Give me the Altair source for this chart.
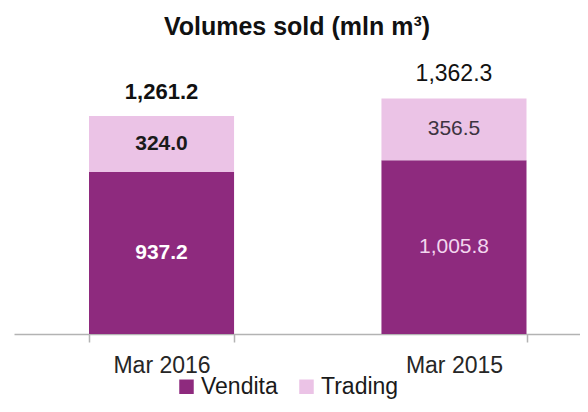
import altair as alt
import pandas as pd

categories = ["Mar 2016", "Mar 2015"]
series = ["Vendita", "Trading"]
vendita = [937.2, 1005.8]
trading = [324.0, 356.5]
totals = [1261.2, 1362.3]

# label styling per category / series
seg_colors = {
    ("Mar 2016", "Vendita"): "#ffffff",
    ("Mar 2016", "Trading"): "#1a1a1a",
    ("Mar 2015", "Vendita"): "#f3d6ef",
    ("Mar 2015", "Trading"): "#3d3340",
}
bold_cat = "Mar 2016"

rows = []
for i, c in enumerate(categories):
    v, t = vendita[i], trading[i]
    rows.append({"cat": c, "series": "Vendita", "value": v, "y0": 0.0, "y1": v,
                 "mid": v / 2, "lc": seg_colors[(c, "Vendita")]})
    rows.append({"cat": c, "series": "Trading", "value": t, "y0": v, "y1": v + t,
                 "mid": v + t / 2, "lc": seg_colors[(c, "Trading")]})
seg = pd.DataFrame(rows)
tot = pd.DataFrame({"cat": categories, "total": totals})

FONT = "Liberation Sans"
DARK = "#8e2a7e"
LIGHT = "#ebc3e6"

xenc = alt.X(
    "cat:N",
    sort=categories,
    scale=alt.Scale(paddingInner=0.504, paddingOuter=0.2197, align=0.5837),
    axis=alt.Axis(
        title=None,
        labelAngle=0,
        labelFont=FONT,
        labelFontSize=23,
        labelColor="#262626",
        labelPadding=12,
        domainColor="#b3b3b3",
        domainWidth=1.5,
        tickColor="#b3b3b3",
        tickWidth=1.5,
        tickSize=8,
        tickBand="extent",
        grid=False,
    ),
)
yscale = alt.Scale(domain=[0, 1585], nice=False, zero=True)

bars = alt.Chart(seg).mark_bar().encode(
    x=xenc,
    y=alt.Y("y0:Q", scale=yscale, axis=None),
    y2="y1:Q",
    color=alt.Color(
        "series:N",
        scale=alt.Scale(domain=series, range=[DARK, LIGHT]),
        legend=alt.Legend(
            title=None,
            orient="none",
            direction="horizontal",
            legendX=161,
            legendY=315,
            symbolType="square",
            symbolSize=210,
            symbolStrokeWidth=0,
            labelFont=FONT,
            labelFontSize=23,
            labelColor="#1a1a1a",
            labelOffset=3,
            columnPadding=17,
        ),
    ),
)

def seg_text(bold):
    flt = alt.datum.cat == bold_cat if bold else alt.datum.cat != bold_cat
    return alt.Chart(seg).transform_filter(flt).mark_text(
        font=FONT, fontSize=21, fontWeight="bold" if bold else "normal",
        baseline="middle", align="center",
    ).encode(
        x=alt.X("cat:N", sort=categories),
        y=alt.Y("mid:Q", scale=yscale),
        text=alt.Text("value:Q", format=",.1f"),
        color=alt.Color("lc:N", scale=None),
    )

def tot_text(bold):
    flt = alt.datum.cat == bold_cat if bold else alt.datum.cat != bold_cat
    return alt.Chart(tot).transform_filter(flt).mark_text(
        font=FONT, fontSize=22 if bold else 23, fontWeight="bold" if bold else "normal",
        baseline="middle", align="center", dy=-24, color="#111111",
    ).encode(
        x=alt.X("cat:N", sort=categories),
        y=alt.Y("total:Q", scale=yscale),
        text=alt.Text("total:Q", format=",.1f"),
    )

chart = alt.layer(
    bars, seg_text(True), seg_text(False), tot_text(True), tot_text(False)
).properties(
    width=566,
    height=274,
    title=alt.Title(
        "Volumes sold (mln m³)",
        font=FONT,
        fontSize=25,
        fontWeight="bold",
        color="#111111",
        anchor="middle",
        offset=20,
    ),
    autosize=alt.AutoSizeParams(type="none"),
    padding={"left": 6, "top": 52, "right": 0, "bottom": 70},
    background="white",
).configure_view(stroke=None)

chart.save("out.html", embed_options={"renderer": "svg", "actions": False})
